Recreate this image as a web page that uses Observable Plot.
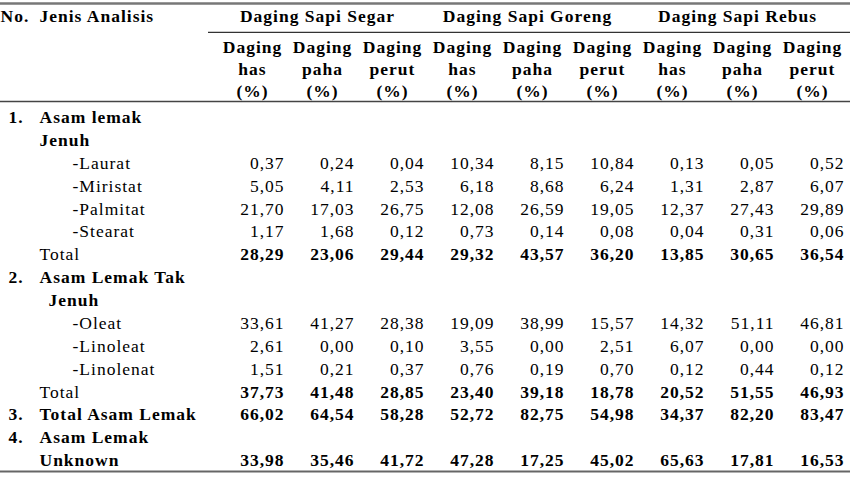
<!DOCTYPE html>
<html>
<head>
<meta charset="utf-8">
<script src="https://cdn.jsdelivr.net/npm/d3@7"></script>
<script src="https://cdn.jsdelivr.net/npm/@observablehq/plot@0.6"></script>
<style>
  html, body { margin: 0; padding: 0; background: #fff; }
  #chart svg { display: block; }
  #chart svg, #chart svg text {
    font-family: "Liberation Serif", serif !important;
    font-size: 17.5px !important;
    letter-spacing: 1px;
  }
</style>
</head>
<body>
<div id="chart"></div>
<script>
// ---- Data ----
const groups = ["Daging Sapi Segar", "Daging Sapi Goreng", "Daging Sapi Rebus"];
const cuts = ["has", "paha", "perut"];
const columns = ["Segar has", "Segar paha", "Segar perut", "Goreng has", "Goreng paha", "Goreng perut", "Rebus has", "Rebus paha", "Rebus perut"];

const rowNumbers = ["1.", "", "", "", "", "", "", "2.", "", "", "", "", "", "3.", "4.", ""];
const rowLabels = ["Asam lemak", "Jenuh", "-Laurat", "-Miristat", "-Palmitat", "-Stearat", "Total",
  "Asam Lemak Tak", "Jenuh", "-Oleat", "-Linoleat", "-Linolenat", "Total",
  "Total Asam Lemak", "Asam Lemak", "Unknown"];

const laurat        = [0.37, 0.24, 0.04, 10.34, 8.15, 10.84, 0.13, 0.05, 0.52];
const miristat      = [5.05, 4.11, 2.53, 6.18, 8.68, 6.24, 1.31, 2.87, 6.07];
const palmitat      = [21.70, 17.03, 26.75, 12.08, 26.59, 19.05, 12.37, 27.43, 29.89];
const stearat       = [1.17, 1.68, 0.12, 0.73, 0.14, 0.08, 0.04, 0.31, 0.06];
const totalJenuh    = [28.29, 23.06, 29.44, 29.32, 43.57, 36.20, 13.85, 30.65, 36.54];
const oleat         = [33.61, 41.27, 28.38, 19.09, 38.99, 15.57, 14.32, 51.11, 46.81];
const linoleat      = [2.61, 0.00, 0.10, 3.55, 0.00, 2.51, 6.07, 0.00, 0.00];
const linolenat     = [1.51, 0.21, 0.37, 0.76, 0.19, 0.70, 0.12, 0.44, 0.12];
const totalTakJenuh = [37.73, 41.48, 28.85, 23.40, 39.18, 18.78, 20.52, 51.55, 46.93];
const totalAsamLemak= [66.02, 64.54, 58.28, 52.72, 82.75, 54.98, 34.37, 82.20, 83.47];
const unknown       = [33.98, 35.46, 41.72, 47.28, 17.25, 45.02, 65.63, 17.81, 16.53];

// row index -> series
const valueRows = [
  {row: 2, values: laurat, bold: false},
  {row: 3, values: miristat, bold: false},
  {row: 4, values: palmitat, bold: false},
  {row: 5, values: stearat, bold: false},
  {row: 6, values: totalJenuh, bold: true},
  {row: 9, values: oleat, bold: false},
  {row: 10, values: linoleat, bold: false},
  {row: 11, values: linolenat, bold: false},
  {row: 12, values: totalTakJenuh, bold: true},
  {row: 13, values: totalAsamLemak, bold: true},
  {row: 15, values: unknown, bold: true}
];

// ---- Layout (row units on the y scale; styles) ----
const layout = {
  topRule: -4.98, titleRow: -4.42, groupRule: -3.72,
  sub1: -3.06, sub2: -2.1, sub3: -1.14, headRule: -0.7, bottomRule: 15.48
};
const labelStyle = ["main", "main", "item", "item", "item", "item", "total",
  "main", "main2", "item", "item", "item", "total", "main", "main", "main"];

const fmt = v => v.toFixed(2).replace(".", ",");

const cells = valueRows.flatMap(r => r.values.map((v, j) => ({row: r.row, col: columns[j], text: fmt(v), bold: r.bold})));
const rows = rowLabels.map((label, i) => ({row: i, num: rowNumbers[i], label, kind: labelStyle[i]}));
const subHeads = columns.map((c, j) => ({col: c, cut: cuts[j % 3]}));
const groupHeads = groups.map((g, k) => ({col: columns[k * 3 + 1], label: g}));

const chart = Plot.plot({
  width: 850,
  height: 478,
  marginTop: 0, marginRight: 0, marginBottom: 0, marginLeft: 0,
  style: {color: "#000", background: "#fff"},
  x: {type: "point", domain: columns, range: [248, 814], padding: 0, axis: null},
  y: {type: "linear", domain: [0, 15], range: [117, 460], axis: null},
  marks: [
    Plot.ruleY([layout.topRule], {stroke: "#777", strokeWidth: 2.5}),
    Plot.ruleY([layout.groupRule], {stroke: "#333", strokeWidth: 1.2, insetLeft: 208}),
    Plot.ruleY([layout.headRule], {stroke: "#444", strokeWidth: 1.5}),
    Plot.ruleY([layout.bottomRule], {stroke: "#666", strokeWidth: 2}),
    // header
    Plot.text(["No."], {y: () => layout.titleRow, text: d => d, frameAnchor: "left", textAnchor: "start", dx: 0, fontWeight: "bold"}),
    Plot.text(["Jenis Analisis"], {y: () => layout.titleRow, text: d => d, frameAnchor: "left", textAnchor: "start", dx: 39, fontWeight: "bold"}),
    Plot.text(groupHeads, {x: "col", y: () => layout.titleRow, text: "label", dx: -4, fontWeight: "bold"}),
    Plot.text(subHeads, {x: "col", y: () => layout.sub1, text: () => "Daging", dx: 1, fontWeight: "bold"}),
    Plot.text(subHeads, {x: "col", y: () => layout.sub2, text: "cut", dx: 1, fontWeight: "bold"}),
    Plot.text(subHeads, {x: "col", y: () => layout.sub3, text: () => "(%)", dx: 1, fontWeight: "bold"}),
    // row numbers and labels
    Plot.text(rows.filter(d => d.num), {y: "row", text: "num", frameAnchor: "left", textAnchor: "start", dx: 8, fontWeight: "bold"}),
    Plot.text(rows.filter(d => d.kind === "main"), {y: "row", text: "label", frameAnchor: "left", textAnchor: "start", dx: 39, fontWeight: "bold"}),
    Plot.text(rows.filter(d => d.kind === "main2"), {y: "row", text: "label", frameAnchor: "left", textAnchor: "start", dx: 48, fontWeight: "bold"}),
    Plot.text(rows.filter(d => d.kind === "total"), {y: "row", text: "label", frameAnchor: "left", textAnchor: "start", dx: 39}),
    Plot.text(rows.filter(d => d.kind === "item"), {y: "row", text: "label", frameAnchor: "left", textAnchor: "start", dx: 72}),
    // values
    Plot.text(cells.filter(d => !d.bold), {x: "col", y: "row", text: "text", textAnchor: "end", dx: 33}),
    Plot.text(cells.filter(d => d.bold), {x: "col", y: "row", text: "text", textAnchor: "end", dx: 33, fontWeight: "bold"})
  ]
});

document.getElementById("chart").append(chart);
</script>
</body>
</html>
